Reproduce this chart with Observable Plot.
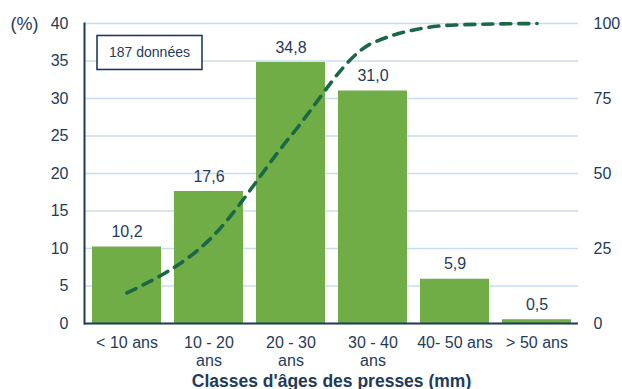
<!DOCTYPE html>
<html><head><meta charset="utf-8">
<script src="https://cdn.jsdelivr.net/npm/d3@7"></script>
<script src="https://cdn.jsdelivr.net/npm/@observablehq/plot@0.6"></script>
<style>
body{margin:0;background:#fff;}
#chart svg{font-family:"Liberation Sans",Arial,sans-serif;}
</style>
</head><body><div id="chart"></div>
<script>
const categories = ["< 10 ans", "10 - 20\nans", "20 - 30\nans", "30 - 40\nans", "40- 50 ans", "> 50 ans"];
const percentages = [10.2, 17.6, 34.8, 31.0, 5.9, 0.5];
const cumulative = [10.2, 27.8, 62.6, 93.6, 99.5, 100];
const leftTicks = [0, 5, 10, 15, 20, 25, 30, 35, 40];
const rightTicks = [0, 25, 50, 75, 100];
const leftMax = 40, rightMax = 100;
const xTitle = "Classes d'âges des presses (mm)";
const yUnit = "(%)";
const noteText = "187 données";

const data = categories.map((c, i) => ({cat: c, pct: percentages[i], cum: cumulative[i]}));
const navy = "#1F3B5A";

const chart = Plot.plot({
  width: 622, height: 389,
  marginLeft: 84, marginRight: 44, marginTop: 23, marginBottom: 66,
  style: {fontFamily: '"Liberation Sans", Arial, sans-serif', color: navy, background: "#fff"},
  x: {type: "band", domain: categories, paddingInner: 0.163, paddingOuter: 0.08, align: 0.5},
  y: {domain: [0, leftMax]},
  marks: [
    Plot.gridY(leftTicks, {stroke: "#C6DDF1", strokeOpacity: 1, strokeWidth: 1.3}),
    Plot.barY(data, {x: "cat", y: "pct", fill: "#70AD47"}),
    Plot.ruleY([0], {stroke: navy, strokeWidth: 2}),
    Plot.frame({anchor: "left", stroke: navy, strokeWidth: 2}),
    Plot.lineY(data, {x: "cat", y: d => d.cum * leftMax / rightMax, stroke: "#1B6847", strokeWidth: 3.6,
      strokeDasharray: "10,8", strokeLinecap: "round", curve: "monotone-x"}),
    Plot.text(data, {x: "cat", y: "pct", text: d => d.pct.toFixed(1).replace(".", ","), dy: -15,
      fontSize: 16, fill: navy}),
    Plot.axisY(leftTicks, {anchor: "left", tickSize: 0, tickPadding: 16, fontSize: 16, label: null}),
    Plot.axisY(rightTicks.map(v => v * leftMax / rightMax), {anchor: "right", tickSize: 0, tickPadding: 15,
      fontSize: 16, label: null, tickFormat: d => Math.round(d * rightMax / leftMax)}),
    Plot.axisX({tickSize: 0, tickPadding: 11, fontSize: 16, lineHeight: 1.15, label: null}),
    Plot.text([xTitle], {frameAnchor: "bottom", lineAnchor: "middle", dy: 57.5, fontSize: 17.5, fontWeight: "bold", fill: navy}),
    Plot.text([yUnit], {frameAnchor: "top-left", lineAnchor: "middle", textAnchor: "start", dx: -74, dy: 1, fontSize: 18, fill: navy}),
    Plot.text([noteText], {frameAnchor: "top-left", lineAnchor: "middle", textAnchor: "middle", dx: 65, dy: 29.5, fontSize: 14,
      fill: navy, className: "note"})
  ]
});
document.getElementById("chart").appendChild(chart);

// draw the frame box around the note text
const noteEl = chart.querySelector(".note text") || chart.querySelector("g.note text");
if (noteEl) {
  const bb = noteEl.getBBox();
  const g = noteEl.parentNode;
  const rect = document.createElementNS("http://www.w3.org/2000/svg", "rect");
  rect.setAttribute("x", bb.x - 12);
  rect.setAttribute("y", bb.y - 9);
  rect.setAttribute("width", bb.width + 24);
  rect.setAttribute("height", bb.height + 18);
  rect.setAttribute("fill", "#fff");
  rect.setAttribute("stroke", navy);
  rect.setAttribute("stroke-width", 1.6);
  if (noteEl.getAttribute("transform")) rect.setAttribute("transform", noteEl.getAttribute("transform"));
  g.insertBefore(rect, noteEl);
}
</script>
</body></html>
